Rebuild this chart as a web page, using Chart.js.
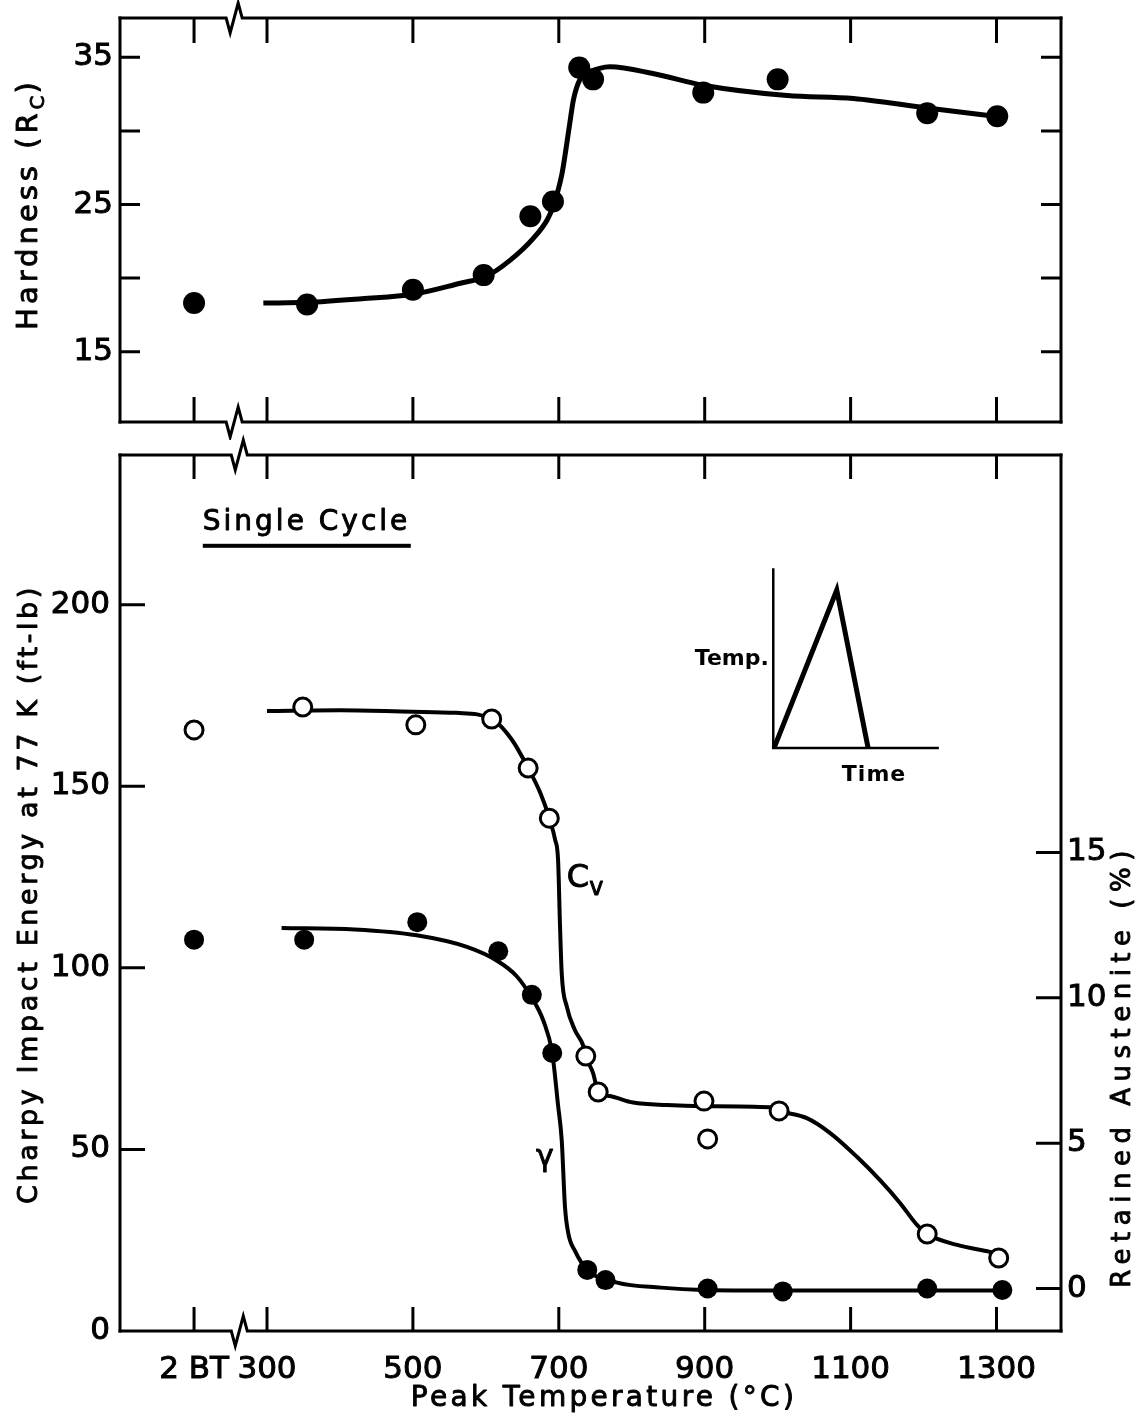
<!DOCTYPE html>
<html>
<head>
<meta charset="utf-8">
<title>Hardness and Charpy energy vs peak temperature</title>
<script src="https://cdn.jsdelivr.net/npm/chart.js@4"></script>
<style>
  html, body { margin: 0; padding: 0; background: #fff; }
  #wrap { position: relative; width: 1141px; height: 1423px; }
  #topChart { position: absolute; left: 0; top: 0; }
  #bottomChart { position: absolute; left: 0; top: 430px; }
</style>
</head>
<body>
<div id="wrap">
  <canvas id="topChart" width="1141" height="440"></canvas>
  <canvas id="bottomChart" width="1141" height="993"></canvas>
</div>
<script>
// ---- values ----
// peak temperature axis ("2 BT" is the base metal, plotted left of the break)
const xTicks = [200, 300, 500, 700, 900, 1100, 1300];
const xTickLabels = ['2 BT', '300', '500', '700', '900', '1100', '1300'];

// hardness panel
const hardTicks = [15, 20, 25, 30, 35];
const hardTickLabels = ['15', '', '25', '', '35'];
const hardTemps = [200, 355, 500, 597, 661, 692, 728, 747, 898, 1000, 1205, 1301];
const hardness = [18.3, 18.2, 19.2, 20.2, 24.2, 25.2, 34.3, 33.5, 32.6, 33.5, 31.2, 31.0];
// faired curve through the hardness points
const hardCurveT = [295, 355, 430, 500, 565, 600, 633, 665, 684, 692, 704, 715, 720, 729, 738, 756, 770, 829, 898, 1013, 1104, 1205, 1314];
const hardCurveV = [18.3, 18.35, 18.6, 18.9, 19.65, 20.1, 21.2, 22.7, 23.95, 24.85, 27.0, 30.5, 32.1, 33.5, 33.9, 34.25, 34.35, 33.9, 33.1, 32.4, 32.2, 31.55, 30.9];

// Charpy panel, left axis (ft-lb)
const cvTicks = [0, 50, 100, 150, 200];
const cvTemps = [200, 349, 504, 608, 658, 687, 737, 754, 899, 904, 1002, 1205, 1303];
const cvEnergy = [165.5, 171.8, 166.9, 168.5, 155.0, 141.2, 75.7, 65.8, 63.3, 52.9, 60.6, 26.7, 20.1];
const cvCurveT = [300, 400, 500, 560, 608, 635, 658, 675, 687, 695, 699, 701.6, 704, 711, 722, 734, 737, 747, 754, 770, 802, 848, 899, 990, 1002, 1040, 1072, 1109, 1140, 1168, 1191, 1205, 1246, 1291, 1309];
const cvCurveV = [170.7, 170.9, 170.5, 170.2, 168.5, 163.0, 155.0, 148.0, 141.2, 135.2, 129.7, 112.0, 98.5, 89.3, 82.9, 78.3, 75.7, 71.0, 65.9, 64.7, 62.9, 62.2, 61.9, 61.6, 60.6, 58.6, 54.5, 47.9, 41.6, 35.2, 29.2, 26.7, 23.7, 21.8, 20.9];

// Charpy panel, right axis: retained austenite (%)
const austTicks = [0, 5, 10, 15];
const austTemps = [200, 351, 506, 617, 663, 691, 739, 764, 904, 1007, 1205, 1308];
const austenite = [12.0, 12.0, 12.6, 11.6, 10.1, 8.1, 0.64, 0.29, 0.0, -0.1, 0.0, -0.05];
const austCurveT = [320, 420, 505, 574, 617, 642, 663, 679, 691, 699, 704, 708.5, 713, 722, 739, 780, 840, 898, 1000, 1100, 1200, 1309];
const austCurveV = [12.4, 12.35, 12.15, 11.75, 11.25, 10.75, 10.0, 9.2, 8.1, 6.3, 5.1, 2.8, 1.9, 1.3, 0.64, 0.2, 0.03, -0.05, -0.07, -0.07, -0.07, -0.07];

// thermal cycle sketch (drawn in the Charpy panel's units)
const sketchAxisT = [994, 994, 1221];
const sketchAxisV = [210, 160.5, 160.5];
const sketchCycleT = [995, 1081, 1124];
const sketchCycleV = [160.5, 204, 160.5];

// ---- helpers ----
const FONT = "'DejaVu Sans', 'Liberation Sans', sans-serif";
const X_MIN = 98.5, X_MAX = 1388.4;

function pts(xs, ys) {
  return xs.map((x, i) => ({ x: x, y: ys[i] }));
}

// text made of runs (for subscripts), drawn from x with given alignment
function drawRuns(ctx, runs, x, y, align) {
  const widths = runs.map(r => {
    ctx.font = (r.weight || 'normal') + ' ' + r.size + 'px ' + FONT;
    ctx.letterSpacing = (r.spacing || 0) + 'px';
    return ctx.measureText(r.text).width;
  });
  const total = widths.reduce((a, b) => a + b, 0);
  let cx = align === 'center' ? x - total / 2 : (align === 'right' ? x - total : x);
  ctx.textAlign = 'left';
  ctx.textBaseline = 'alphabetic';
  ctx.lineWidth = 0.9;
  ctx.lineJoin = 'round';
  runs.forEach((r, i) => {
    ctx.font = (r.weight || 'normal') + ' ' + r.size + 'px ' + FONT;
    ctx.letterSpacing = (r.spacing || 0) + 'px';
    ctx.fillText(r.text, cx, y + (r.dy || 0));
    if (r.weight !== 'bold') ctx.strokeText(r.text, cx, y + (r.dy || 0));
    cx += widths[i];
  });
  ctx.letterSpacing = '0px';
}

function drawVertical(ctx, runs, x, y) {
  ctx.save();
  ctx.translate(x, y);
  ctx.rotate(-Math.PI / 2);
  drawRuns(ctx, runs, 0, 0, 'center');
  ctx.restore();
}

// horizontal frame line with the axis-break zigzag
function breakLine(ctx, x0, x1, y, bx) {
  ctx.beginPath();
  ctx.moveTo(x0, y);
  ctx.lineTo(bx - 8, y);
  ctx.lineTo(bx - 4, y + 15);
  ctx.lineTo(bx + 4, y - 15);
  ctx.lineTo(bx + 8, y);
  ctx.lineTo(x1, y);
  ctx.stroke();
}

function panelPlugin(cfg) {
  return {
    id: 'panel' + cfg.name,
    afterDraw(chart) {
      const ctx = chart.ctx, a = chart.chartArea, sx = chart.scales.x;
      ctx.save();
      ctx.strokeStyle = '#000';
      ctx.fillStyle = '#000';
      ctx.lineWidth = 3;
      ctx.lineCap = 'square';
      const bx = sx.getPixelForValue(cfg.breakT);
      breakLine(ctx, a.left, a.right, a.top, bx);
      breakLine(ctx, a.left, a.right, a.bottom, bx);
      ctx.beginPath();
      ctx.moveTo(a.left, a.top); ctx.lineTo(a.left, a.bottom);
      ctx.moveTo(a.right, a.top); ctx.lineTo(a.right, a.bottom);
      ctx.stroke();

      // ticks point into the plot
      ctx.lineCap = 'butt';
      ctx.beginPath();
      xTicks.forEach(t => {
        const px = sx.getPixelForValue(t);
        ctx.moveTo(px, a.top); ctx.lineTo(px, a.top + cfg.xTickLen);
        ctx.moveTo(px, a.bottom); ctx.lineTo(px, a.bottom - cfg.xTickLen);
      });
      const sl = chart.scales[cfg.leftScale];
      cfg.leftTicks.forEach(v => {
        const py = sl.getPixelForValue(v);
        ctx.moveTo(a.left, py); ctx.lineTo(a.left + cfg.yTickLen, py);
      });
      const sr = chart.scales[cfg.rightScale];
      cfg.rightTicks.forEach(v => {
        const py = sr.getPixelForValue(v);
        ctx.moveTo(a.right, py); ctx.lineTo(a.right - cfg.yTickLen, py);
      });
      ctx.stroke();

      cfg.drawText(chart);
      ctx.restore();
    }
  };
}

const tickFont = { family: FONT, size: 31 };
const tickStroke = { textStrokeColor: '#000', textStrokeWidth: 1 };

// ---- top panel: hardness ----
new Chart(document.getElementById('topChart'), {
  type: 'scatter',
  data: {
    datasets: [
      {
        data: pts(hardTemps, hardness),
        pointRadius: 11, pointBackgroundColor: '#000', pointBorderWidth: 0,
        showLine: false, order: 0
      },
      {
        data: pts(hardCurveT, hardCurveV),
        showLine: true, pointRadius: 0, borderColor: '#000', borderWidth: 5,
        cubicInterpolationMode: 'monotone', order: 1
      }
    ]
  },
  options: {
    responsive: false,
    animation: false,
    events: [],
    layout: { padding: { left: 0, right: 80, top: 18, bottom: 0 } },
    plugins: { legend: { display: false }, tooltip: { enabled: false } },
    scales: {
      x: {
        type: 'linear', min: X_MIN, max: X_MAX,
        grid: { display: false, drawTicks: false }, border: { display: false },
        ticks: { display: false },
        afterBuildTicks(s) { s.ticks = xTicks.map(v => ({ value: v })); },
        afterFit(s) { s.height = 18; s.paddingLeft = 0; s.paddingRight = 0; }
      },
      y: {
        type: 'linear', min: 10.22, max: 37.67,
        grid: { display: false, drawTicks: false }, border: { display: false },
        afterBuildTicks(s) { s.ticks = hardTicks.map(v => ({ value: v })); },
        ticks: Object.assign({
          callback: (v, i) => hardTickLabels[i],
          font: tickFont, color: '#000', padding: 7
        }, tickStroke),
        afterFit(s) { s.width = 120; s.paddingTop = 0; s.paddingBottom = 0; }
      }
    }
  },
  plugins: [panelPlugin({
    name: 'Top', breakT: 255, xTickLen: 25, yTickLen: 20,
    leftScale: 'y', leftTicks: hardTicks,
    rightScale: 'y', rightTicks: hardTicks,
    drawText(chart) {
      drawVertical(chart.ctx, [
        { text: 'Hardness (R', size: 29, spacing: 4 },
        { text: 'C', size: 20, dy: 7, spacing: 2 },
        { text: ')', size: 29 }
      ], 37, 206);
    }
  })]
});

// ---- bottom panel: Charpy energy and retained austenite ----
new Chart(document.getElementById('bottomChart'), {
  type: 'scatter',
  data: {
    datasets: [
      {
        data: pts(cvTemps, cvEnergy), yAxisID: 'y',
        pointRadius: 9, pointBackgroundColor: '#fff', pointBorderColor: '#000', pointBorderWidth: 3,
        showLine: false, order: 0
      },
      {
        data: pts(austTemps, austenite), yAxisID: 'y2',
        pointRadius: 10, pointBackgroundColor: '#000', pointBorderWidth: 0,
        showLine: false, order: 0
      },
      {
        data: pts(cvCurveT, cvCurveV), yAxisID: 'y',
        showLine: true, pointRadius: 0, borderColor: '#000', borderWidth: 4,
        cubicInterpolationMode: 'monotone', order: 1
      },
      {
        data: pts(austCurveT, austCurveV), yAxisID: 'y2',
        showLine: true, pointRadius: 0, borderColor: '#000', borderWidth: 4,
        cubicInterpolationMode: 'monotone', order: 1
      },
      {
        data: pts(sketchAxisT, sketchAxisV), yAxisID: 'y',
        showLine: true, pointRadius: 0, borderColor: '#000', borderWidth: 2.5,
        tension: 0, order: 2
      },
      {
        data: pts(sketchCycleT, sketchCycleV), yAxisID: 'y',
        showLine: true, pointRadius: 0, borderColor: '#000', borderWidth: 5,
        tension: 0, order: 2
      }
    ]
  },
  options: {
    responsive: false,
    animation: false,
    events: [],
    layout: { padding: { left: 0, right: 0, top: 25, bottom: 0 } },
    plugins: { legend: { display: false }, tooltip: { enabled: false } },
    scales: {
      x: {
        type: 'linear', min: X_MIN, max: X_MAX,
        grid: { display: false, drawTicks: false }, border: { display: false },
        afterBuildTicks(s) { s.ticks = xTicks.map(v => ({ value: v })); },
        ticks: Object.assign({
          callback: (v, i) => xTickLabels[i],
          autoSkip: false, maxRotation: 0,
          font: tickFont, color: '#000', padding: 20
        }, tickStroke),
        afterFit(s) { s.height = 92; s.paddingLeft = 0; s.paddingRight = 0; }
      },
      y: {
        type: 'linear', position: 'left', min: 0, max: 241.2,
        grid: { display: false, drawTicks: false }, border: { display: false },
        afterBuildTicks(s) { s.ticks = cvTicks.map(v => ({ value: v })); },
        ticks: Object.assign({ font: tickFont, color: '#000', padding: 10 }, tickStroke),
        afterFit(s) { s.width = 120; s.paddingTop = 0; s.paddingBottom = 0; }
      },
      y2: {
        type: 'linear', position: 'right', min: -1.462, max: 28.67,
        grid: { display: false, drawTicks: false }, border: { display: false },
        afterBuildTicks(s) { s.ticks = austTicks.map(v => ({ value: v })); },
        ticks: Object.assign({ font: tickFont, color: '#000', padding: 6 }, tickStroke),
        afterFit(s) { s.width = 80; s.paddingTop = 0; s.paddingBottom = 0; }
      }
    }
  },
  plugins: [panelPlugin({
    name: 'Bottom', breakT: 262, xTickLen: 24, yTickLen: 25,
    leftScale: 'y', leftTicks: cvTicks.slice(1),
    rightScale: 'y2', rightTicks: austTicks,
    drawText(chart) {
      const ctx = chart.ctx, sx = chart.scales.x, sy = chart.scales.y;
      // "Single Cycle" with underline
      const scX = sx.getPixelForValue(212), scY = sy.getPixelForValue(220.5);
      drawRuns(ctx, [{ text: 'Single Cycle', size: 28, spacing: 3 }], scX, scY, 'left');
      ctx.fillRect(scX, sy.getPixelForValue(216.2) - 2, 208, 4);
      // curve labels
      drawRuns(ctx, [
        { text: 'C', size: 32 },
        { text: 'v', size: 24, dy: 8 }
      ], sx.getPixelForValue(711), sy.getPixelForValue(122.2), 'left');
      drawRuns(ctx, [{ text: 'γ', size: 30 }], sx.getPixelForValue(681), sy.getPixelForValue(45.4), 'center');
      // thermal cycle sketch labels
      drawRuns(ctx, [{ text: 'Temp.', size: 22, weight: 'bold' }],
        sx.getPixelForValue(988), sy.getPixelForValue(183.5), 'right');
      drawRuns(ctx, [{ text: 'Time', size: 22, weight: 'bold', spacing: 1 }],
        sx.getPixelForValue(1088), sy.getPixelForValue(151.5), 'left');
      // axis titles
      drawVertical(ctx, [{ text: 'Charpy Impact Energy at 77 K (ft-lb)', size: 27, spacing: 3.6 }], 37, 464);
      drawVertical(ctx, [{ text: 'Retained Austenite (%)', size: 26, spacing: 6.5 }], 1130, 636);
      drawRuns(ctx, [{ text: 'Peak Temperature (°C)', size: 28, spacing: 3.3 }], 604, 976, 'center');
    }
  })]
});
</script>
</body>
</html>
